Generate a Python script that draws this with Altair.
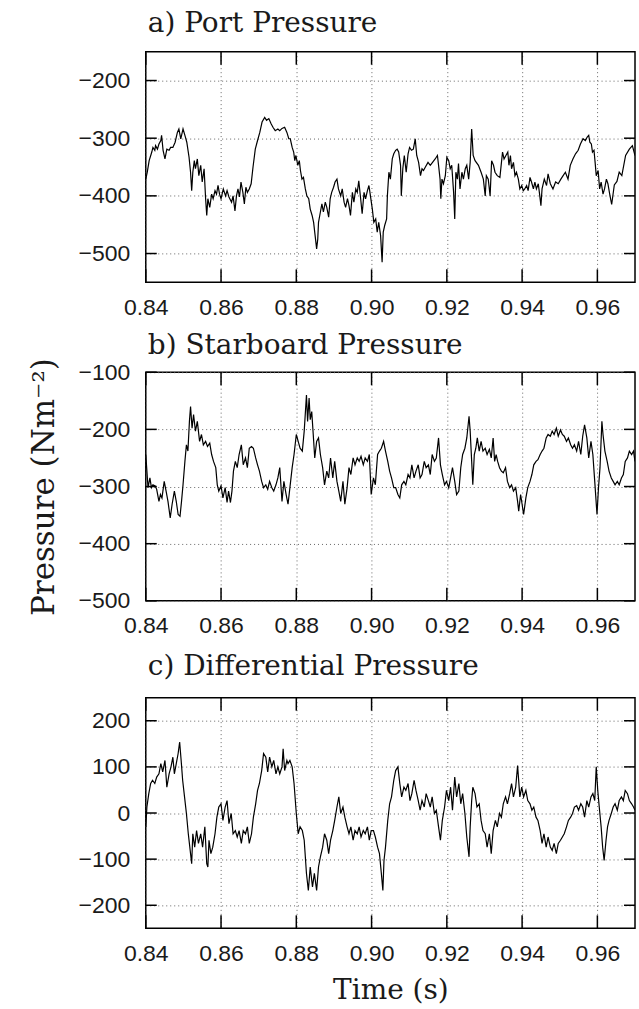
import altair as alt
import pandas as pd

X_TICKS = [0.84, 0.86, 0.88, 0.90, 0.92, 0.94, 0.96]

# a) Port pressure
port_t = [0.8400, 0.8404, 0.8409, 0.8416, 0.8419, 0.8424, 0.8426, 0.8431, 0.8435, 0.8440,
          0.8442, 0.8446, 0.8451, 0.8456, 0.8462, 0.8466, 0.8472, 0.8478, 0.8484, 0.8488,
          0.8493, 0.8499, 0.8504, 0.8509, 0.8515, 0.8519, 0.8522, 0.8525, 0.8529, 0.8532,
          0.8537, 0.8541, 0.8546, 0.8550, 0.8555, 0.8559, 0.8562, 0.8565, 0.8570, 0.8575,
          0.8579, 0.8584, 0.8588, 0.8592, 0.8596, 0.8600, 0.8606, 0.8612, 0.8616, 0.8621,
          0.8628, 0.8632, 0.8637, 0.8641, 0.8645, 0.8649, 0.8653, 0.8658, 0.8662, 0.8666,
          0.8670, 0.8675, 0.8680, 0.8685, 0.8691, 0.8697, 0.8703, 0.8709, 0.8716, 0.8721,
          0.8727, 0.8733, 0.8738, 0.8744, 0.8751, 0.8756, 0.8762, 0.8769, 0.8775, 0.8780,
          0.8784, 0.8789, 0.8793, 0.8796, 0.8799, 0.8804, 0.8808, 0.8811, 0.8815, 0.8819,
          0.8824, 0.8828, 0.8833, 0.8837, 0.8842, 0.8846, 0.8850, 0.8854, 0.8857, 0.8859,
          0.8864, 0.8868, 0.8872, 0.8877, 0.8881, 0.8886, 0.8890, 0.8894, 0.8899, 0.8903,
          0.8908, 0.8912,
          0.8918, 0.8922, 0.8927, 0.8931, 0.8936, 0.8940, 0.8944, 0.8949, 0.8953, 0.8958,
          0.8962, 0.8966, 0.8971, 0.8975, 0.8980, 0.8984, 0.8989, 0.8993, 0.8997, 0.9002,
          0.9006, 0.9011, 0.9015, 0.9019, 0.9024, 0.9028, 0.9031, 0.9035, 0.9040, 0.9042,
          0.9046, 0.9050, 0.9055, 0.9059, 0.9064, 0.9068, 0.9072, 0.9077, 0.9079, 0.9083,
          0.9087, 0.9092, 0.9097, 0.9101, 0.9106, 0.9111, 0.9116, 0.9120, 0.9125, 0.9130,
          0.9134, 0.9138, 0.9143, 0.9150, 0.9156, 0.9162, 0.9169, 0.9175, 0.9178, 0.9182,
          0.9184, 0.9187, 0.9191, 0.9196, 0.9200, 0.9205, 0.9209, 0.9213, 0.9218, 0.9221,
          0.9224, 0.9228, 0.9231, 0.9235, 0.9240, 0.9244, 0.9249, 0.9253, 0.9258, 0.9262,
          0.9266, 0.9270, 0.9275, 0.9284, 0.9291, 0.9297, 0.9302, 0.9305, 0.9310, 0.9315,
          0.9319, 0.9324, 0.9328, 0.9334, 0.9341, 0.9348, 0.9352, 0.9357, 0.9362, 0.9365,
          0.9369, 0.9372, 0.9377, 0.9381, 0.9385, 0.9390, 0.9394, 0.9399, 0.9403, 0.9407,
          0.9412, 0.9416, 0.9421, 0.9425, 0.9430, 0.9434, 0.9438, 0.9443, 0.9447, 0.9450,
          0.9453, 0.9459, 0.9465, 0.9469, 0.9475, 0.9482, 0.9489, 0.9496, 0.9503, 0.9509,
          0.9515, 0.9522, 0.9528, 0.9535, 0.9542, 0.9549, 0.9555, 0.9562, 0.9568, 0.9573,
          0.9577, 0.9580, 0.9584, 0.9587, 0.9591, 0.9594, 0.9597, 0.9602, 0.9606, 0.9610,
          0.9615, 0.9619, 0.9624, 0.9628, 0.9633, 0.9638, 0.9645, 0.9652, 0.9658, 0.9665,
          0.9675, 0.9685, 0.9693, 0.9700]
port_p = [-371, -359, -339, -324, -316, -321, -313, -319, -310, -304,
          -295, -321, -336, -319, -321, -316, -316, -307, -290, -284,
          -301, -284, -295, -307, -333, -359, -391, -359, -339, -353,
          -336, -365, -347, -376, -353, -405, -434, -405, -420, -397,
          -405, -391, -397, -382, -397, -405, -388, -400, -391, -402,
          -411, -400, -426, -400, -388, -402, -376, -394, -414, -385,
          -394, -388, -379, -350, -319, -304, -290, -272, -264, -269,
          -266, -275, -281, -287, -284, -287, -283, -281, -290, -301,
          -301, -316, -324, -339, -330, -347, -339, -356, -371, -368,
          -388, -400, -405, -423, -434, -446, -469, -492, -475, -446,
          -428, -414, -428, -411, -420, -437, -405, -394, -385, -376,
          -371, -388,
          -400, -388, -411, -420, -405, -417, -434, -394, -411, -388,
          -394, -374, -405, -431, -394, -405, -391, -382, -400, -423,
          -446, -440, -463, -446, -469, -515, -463, -451, -440, -400,
          -359, -371, -336, -327, -321, -319, -324, -347, -400, -353,
          -330, -359, -327, -316, -321, -319, -301, -330, -342, -365,
          -353, -356, -350, -342, -347, -342, -336, -330, -347, -371,
          -405, -371, -379, -365, -333, -339, -353, -347, -394, -440,
          -359, -371, -344, -388, -359, -371, -353, -347, -371, -342,
          -284, -330, -339, -347, -359, -371, -400, -365, -371, -400,
          -339, -347, -359, -365, -368, -324, -336, -330, -324, -347,
          -330, -353, -342, -365, -359, -371, -388, -382, -391, -388,
          -382, -391, -368, -376, -388, -376, -388, -379, -400, -417,
          -388, -371, -382, -362, -379, -388, -376, -379, -371, -365,
          -359, -371, -347, -336, -327, -321, -310, -301, -304, -298,
          -295, -307, -310, -324, -321, -342, -365, -356, -388, -376,
          -397, -388, -371, -379, -398, -415, -381, -375, -359, -365,
          -330, -319, -313, -330]

# b) Starboard pressure
stbd_t = [0.8400, 0.8403, 0.8406, 0.8411, 0.8415, 0.8419, 0.8425, 0.8429, 0.8435, 0.8439,
          0.8443, 0.8449, 0.8454, 0.8459, 0.8465, 0.8470, 0.8476, 0.8481, 0.8486, 0.8491,
          0.8495, 0.8499, 0.8504, 0.8508, 0.8512, 0.8516, 0.8519, 0.8523, 0.8527, 0.8532,
          0.8537, 0.8543, 0.8548, 0.8553, 0.8559, 0.8564, 0.8570, 0.8575, 0.8580, 0.8586,
          0.8590, 0.8594, 0.8600, 0.8605, 0.8611, 0.8616, 0.8620, 0.8625, 0.8629, 0.8633,
          0.8638, 0.8643, 0.8648, 0.8654, 0.8659, 0.8665, 0.8670, 0.8675, 0.8681, 0.8686,
          0.8692, 0.8697, 0.8702, 0.8708, 0.8713, 0.8719, 0.8724, 0.8729, 0.8735, 0.8740,
          0.8746, 0.8751, 0.8756, 0.8762, 0.8767, 0.8773, 0.8778, 0.8783, 0.8789, 0.8794,
          0.8800, 0.8805, 0.8810, 0.8816, 0.8821, 0.8827, 0.8830, 0.8834, 0.8837, 0.8841,
          0.8845, 0.8849, 0.8854, 0.8859, 0.8864, 0.8870, 0.8875, 0.8881, 0.8886, 0.8891,
          0.8897, 0.8902, 0.8908, 0.8913, 0.8918, 0.8924, 0.8929, 0.8935, 0.8940, 0.8945,
          0.8951, 0.8956, 0.8962, 0.8967, 0.8972, 0.8978, 0.8983, 0.8989, 0.8994, 0.8999,
          0.9005, 0.9010, 0.9016, 0.9021, 0.9026, 0.9032, 0.9037, 0.9043, 0.9048, 0.9053,
          0.9059, 0.9064, 0.9070, 0.9075, 0.9080, 0.9086, 0.9091, 0.9097, 0.9102, 0.9107,
          0.9113, 0.9118, 0.9124, 0.9129, 0.9134, 0.9140, 0.9145, 0.9151, 0.9156, 0.9161,
          0.9167, 0.9172, 0.9178, 0.9183, 0.9188, 0.9194, 0.9199, 0.9205, 0.9210, 0.9215,
          0.9221, 0.9226, 0.9232, 0.9237, 0.9242, 0.9248, 0.9253, 0.9259, 0.9262, 0.9266,
          0.9269, 0.9273, 0.9277, 0.9281, 0.9286, 0.9291, 0.9296, 0.9302, 0.9307, 0.9313,
          0.9318, 0.9323, 0.9327, 0.9331, 0.9335, 0.9340, 0.9345, 0.9350, 0.9356, 0.9361,
          0.9367, 0.9372, 0.9377, 0.9383, 0.9388, 0.9391, 0.9396, 0.9400, 0.9404, 0.9410,
          0.9415, 0.9421, 0.9426, 0.9431, 0.9437, 0.9442, 0.9448, 0.9453, 0.9458, 0.9464,
          0.9469, 0.9475, 0.9480, 0.9485, 0.9491, 0.9496, 0.9502, 0.9507, 0.9512, 0.9518,
          0.9523, 0.9529, 0.9534, 0.9539, 0.9545, 0.9550, 0.9556, 0.9561, 0.9566, 0.9572,
          0.9577, 0.9583, 0.9588, 0.9593, 0.9599, 0.9603, 0.9607, 0.9612, 0.9615, 0.9620,
          0.9626, 0.9631, 0.9637, 0.9642, 0.9647, 0.9653, 0.9658, 0.9664, 0.9669, 0.9674,
          0.9680, 0.9685, 0.9691, 0.9696, 0.9700]
stbd_p = [-244, -273, -302, -285, -302, -297, -299, -305, -326, -314,
          -320, -291, -308, -326, -355, -331, -308, -326, -349, -352,
          -326, -297, -256, -227, -238, -186, -160, -198, -174, -203,
          -186, -221, -209, -227, -221, -230, -224, -244, -256, -267,
          -297, -308, -299, -320, -302, -328, -308, -328, -308, -273,
          -256, -267, -244, -227, -262, -250, -267, -233, -230, -233,
          -250, -262, -273, -291, -302, -297, -305, -291, -302, -308,
          -297, -285, -267, -326, -291, -314, -331, -302, -267, -244,
          -209, -221, -233, -238, -203, -140, -186, -145, -183, -169,
          -209, -250, -221, -215, -244, -267, -297, -273, -285, -250,
          -285, -256, -291, -308, -326, -291, -331, -302, -267, -279,
          -250, -262, -250, -256, -247, -262, -250, -256, -244, -314,
          -285, -297, -244, -238, -233, -221, -238, -256, -273, -285,
          -302, -302, -314, -320, -297, -291, -297, -279, -285, -262,
          -285, -273, -262, -285, -279, -256, -267, -262, -279, -244,
          -256, -250, -215, -262, -279, -297, -291, -302, -285, -267,
          -291, -314, -308, -267, -244, -233, -215, -177, -203, -256,
          -297, -244, -233, -215, -238, -221, -238, -233, -244, -235,
          -250, -215, -256, -244, -256, -267, -273, -276, -267, -291,
          -302, -297, -308, -302, -326, -343, -314, -331, -349, -320,
          -302, -291, -279, -262, -256, -253, -244, -238, -233, -215,
          -209, -212, -203, -209, -198, -212, -201, -209, -212, -221,
          -215, -227, -233, -227, -238, -221, -244, -212, -192, -215,
          -250, -221, -244, -291, -349, -302, -267, -186, -209, -238,
          -256, -273, -285, -291, -297, -291, -297, -285, -279, -256,
          -250, -238, -244, -238, -256]

# c) Differential pressure
diff_t = [0.8400, 0.8403, 0.8408, 0.8413, 0.8418, 0.8424, 0.8429, 0.8435, 0.8440, 0.8445,
          0.8451, 0.8456, 0.8462, 0.8467, 0.8472, 0.8476, 0.8481, 0.8486, 0.8490, 0.8494,
          0.8498, 0.8503, 0.8508, 0.8513, 0.8519, 0.8522, 0.8525, 0.8530, 0.8535, 0.8540,
          0.8546, 0.8551, 0.8557, 0.8562, 0.8565, 0.8568, 0.8573, 0.8578, 0.8584, 0.8589,
          0.8594, 0.8600, 0.8605, 0.8611, 0.8616, 0.8621, 0.8627, 0.8632, 0.8638, 0.8643,
          0.8648, 0.8654, 0.8659, 0.8665, 0.8670, 0.8675, 0.8681, 0.8686, 0.8692, 0.8697,
          0.8702, 0.8708, 0.8713, 0.8719, 0.8724, 0.8729, 0.8735, 0.8740, 0.8746, 0.8751,
          0.8756, 0.8762, 0.8765, 0.8769, 0.8775, 0.8778, 0.8783, 0.8789, 0.8794, 0.8800,
          0.8805, 0.8810, 0.8816, 0.8821, 0.8827, 0.8832, 0.8837, 0.8843, 0.8848, 0.8854,
          0.8859, 0.8864, 0.8870, 0.8875, 0.8881, 0.8886, 0.8891, 0.8897, 0.8902, 0.8908,
          0.8913, 0.8918, 0.8924, 0.8929, 0.8935, 0.8940, 0.8945, 0.8951, 0.8956, 0.8962,
          0.8967, 0.8972, 0.8978, 0.8983, 0.8989, 0.8994, 0.8999, 0.9005, 0.9010, 0.9016,
          0.9021, 0.9026, 0.9030, 0.9033, 0.9037, 0.9043, 0.9048, 0.9053, 0.9059, 0.9064,
          0.9070, 0.9075, 0.9080, 0.9086, 0.9091, 0.9097, 0.9102, 0.9107, 0.9113, 0.9118,
          0.9124, 0.9129, 0.9134, 0.9140, 0.9145, 0.9151, 0.9156, 0.9161, 0.9167, 0.9172,
          0.9178, 0.9183, 0.9188, 0.9194, 0.9199, 0.9205, 0.9210, 0.9215, 0.9221, 0.9226,
          0.9232, 0.9237, 0.9242, 0.9248, 0.9253, 0.9259, 0.9262, 0.9266, 0.9269, 0.9275,
          0.9280, 0.9286, 0.9291, 0.9296, 0.9302, 0.9307, 0.9313, 0.9318, 0.9323, 0.9329,
          0.9334, 0.9340, 0.9345, 0.9350, 0.9356, 0.9361, 0.9367, 0.9372, 0.9377, 0.9383,
          0.9388, 0.9394, 0.9399, 0.9404, 0.9410, 0.9415, 0.9421, 0.9426, 0.9431, 0.9437,
          0.9442, 0.9448, 0.9453, 0.9458, 0.9464, 0.9469, 0.9475, 0.9480, 0.9485, 0.9491,
          0.9496, 0.9502, 0.9507, 0.9512, 0.9518, 0.9523, 0.9529, 0.9534, 0.9539, 0.9545,
          0.9550, 0.9556, 0.9561, 0.9566, 0.9572, 0.9577, 0.9583, 0.9588, 0.9593, 0.9597,
          0.9601, 0.9605, 0.9610, 0.9614, 0.9618, 0.9623, 0.9627, 0.9631, 0.9637, 0.9642,
          0.9647, 0.9653, 0.9658, 0.9664, 0.9669, 0.9674, 0.9680, 0.9685, 0.9691, 0.9696,
          0.9700]
diff_p = [-30, 13, 42, 64, 71, 64, 78, 85, 107, 89,
          114, 56, 85, 100, 121, 85, 107, 129, 154, 114,
          71, 35, -1, -45, -88, -110, -45, -74, -38, -66,
          -45, -74, -30, -110, -117, -59, -88, -74, -45, -9,
          13, 20, -16, 13, 27, -23, -1, -45, -38, -52,
          -38, -66, -38, -45, -30, -66, -45, -9, 20, 49,
          64, 92, 129, 121, 89, 121, 100, 114, 85, 100,
          85, 100, 139, 92, 114, 107, 114, 100, 64, -1,
          -45, -30, -38, -59, -131, -168, -117, -160, -131, -168,
          -117, -95, -74, -45, -59, -88, -59, -38, -16, 13,
          35, -1, 13, -9, -30, -45, -30, -59, -38, -45,
          -30, -52, -38, -45, -30, -59, -38, -38, -52, -74,
          -88, -131, -168, -103, -74, -16, 20, 35, 71, 92,
          100, 64, 35, 56, 49, 64, 27, 42, 71, 49,
          27, 6, 27, 13, 42, 27, 13, 35, -1, 6,
          -30, -59, -16, 13, 49, 27, 56, 6, 78, 35,
          64, 20, 42, -1, -52, -95, -30, 27, 56, 42,
          13, 20, -16, -38, -45, -74, -45, -88, -38, -16,
          -30, -1, -9, 20, 35, 20, 42, 64, 35, 56,
          103, 35, 56, 35, 49, 27, 20, 6, 13, -9,
          -16, -38, -66, -45, -74, -52, -74, -81, -66, -88,
          -66, -59, -52, -45, -30, -16, -9, -1, 13, 16,
          6, 20, 13, -9, 27, 13, 35, 42, 27, 100,
          49, 13, -30, -74, -103, -59, -30, -16, -1, 13,
          20, 6, 27, 35, 27, 49, 42, 27, 20, 13,
          6]

PORT_TICKS = [-500, -400, -300, -200]
STBD_TICKS = [-500, -400, -300, -200, -100]
DIFF_TICKS = [-200, -100, 0, 100, 200]

TITLES = ["a) Port Pressure", "b) Starboard Pressure", "c) Differential Pressure"]

W = 490
SERIF = "DejaVu Serif"
SANS = "Liberation Sans"
TXT = "#1a1a1a"


def panel(t, p, title, ydom, yticks, h, title_y, ytitle=None, xtitle=None):
    xs = alt.Scale(domain=[0.84, 0.97], nice=False, zero=False)
    ys = alt.Scale(domain=ydom, nice=False, zero=False)
    df = pd.DataFrame({"t": t, "p": p})
    xaxis = alt.Axis(values=X_TICKS, format=".2f", grid=True, ticks=False, domain=False,
                     labelFlush=False,
                     labelFont=SANS, labelFontSize=23, labelColor=TXT, labelPadding=14,
                     gridColor="#666666", gridDash=[1, 3], gridWidth=1,
                     titleFont=SERIF, titleFontSize=28, titleFontWeight="normal",
                     titleColor=TXT, titlePadding=11)
    yaxis = alt.Axis(values=yticks, format="d", grid=True, ticks=False, domain=False,
                     labelFlush=False,
                     labelFont=SANS, labelFontSize=23, labelColor=TXT, labelPadding=16,
                     gridColor="#666666", gridDash=[1, 3], gridWidth=1,
                     titleFont=SERIF, titleFontSize=31, titleFontWeight="normal",
                     titleColor=TXT, titlePadding=18)
    X = alt.X("t:Q", scale=xs, axis=xaxis, title=xtitle)
    Y = alt.Y("p:Q", scale=ys, axis=yaxis, title=ytitle)
    line = alt.Chart(df).mark_line(color="black", strokeWidth=1.2, clip=True).encode(x=X, y=Y)
    ydf = pd.DataFrame({"p": yticks})
    xdf = pd.DataFrame({"t": X_TICKS})
    tick_style = dict(color="black", strokeWidth=1.5)
    left = alt.Chart(ydf).mark_rule(**tick_style).encode(
        y=Y, x=alt.value(0), x2=alt.value(11))
    right = alt.Chart(ydf).mark_rule(**tick_style).encode(
        y=Y, x=alt.value(W - 11), x2=alt.value(W))
    bottom = alt.Chart(xdf).mark_rule(**tick_style).encode(
        x=X, y=alt.value(h - 13), y2=alt.value(h))
    top = alt.Chart(xdf).mark_rule(**tick_style).encode(
        x=X, y=alt.value(0), y2=alt.value(13))
    ttl = alt.Chart(pd.DataFrame({"label": [title]})).mark_text(
        align="left", baseline="alphabetic", font=SERIF, fontSize=28, color=TXT
    ).encode(x=alt.value(2), y=alt.value(title_y), text="label:N")
    return alt.layer(line, left, right, bottom, top, ttl).properties(width=W, height=h)


pa = panel(port_t, port_p, TITLES[0], [-550, -150], PORT_TICKS, 231, -20)
pb = panel(stbd_t, stbd_p, TITLES[1], [-500, -100], STBD_TICKS, 229, -18,
           ytitle="Pressure (Nm⁻²)")
pc = panel(diff_t, diff_p, TITLES[2], [-250, 250], DIFF_TICKS, 231, -23,
           xtitle="Time (s)")

inner = alt.vconcat(pa, pb, spacing=11)
chart = alt.vconcat(inner, pc, spacing=13).properties(
    padding={"left": 27, "top": 8, "right": 2, "bottom": 0},
    background="white",
).configure_view(stroke="black", strokeWidth=1.5)

chart.save("out.html", embed_options={"renderer": "svg", "actions": False})
